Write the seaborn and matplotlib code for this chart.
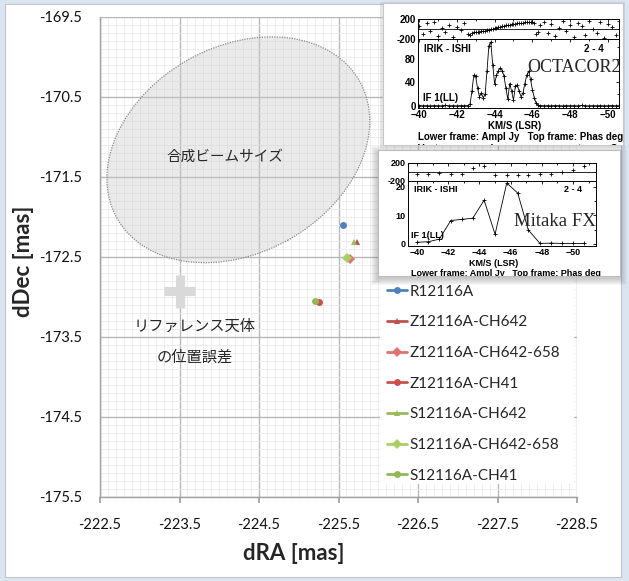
import numpy as np
import pandas as pd
import seaborn as sns
import matplotlib.pyplot as plt
from matplotlib.patches import Ellipse, Rectangle
from matplotlib.ticker import MultipleLocator, AutoMinorLocator

# ---- positions of the maser spot (mas)
series = ['R12116A', 'Z12116A-CH642', 'Z12116A-CH642-658', 'Z12116A-CH41',
          'S12116A-CH642', 'S12116A-CH642-658', 'S12116A-CH41']
dra = [-225.56, -225.73, -225.65, -225.25, -225.69, -225.61, -225.21]
ddec = [-172.10, -172.31, -172.52, -173.06, -172.31, -172.51, -173.05]

xticks = [-222.5, -223.5, -224.5, -225.5, -226.5, -227.5, -228.5]
yticks = [-175.5, -174.5, -173.5, -172.5, -171.5, -170.5, -169.5]

# synthesized beam and reference position error (mas)
beam_center = (-224.24, -171.16)
beam_size = (3.50, 2.58)
ref_pos = (-223.5, -172.93)
ref_err = (0.19, 0.21)

# ---- OCTACOR2 spectrum (km/s, Jy, deg)
vel_oc = [-40.0, -40.2, -40.4, -40.6, -40.8, -41.0, -41.2, -41.4, -41.6, -41.8, -42.0, -42.2, -42.4, -42.6,
          -42.7, -42.8, -42.9, -43.0, -43.1, -43.2, -43.3, -43.4, -43.5, -43.6, -43.7, -43.8, -43.9, -44.0,
          -44.1, -44.2, -44.3, -44.4, -44.5, -44.6, -44.7, -44.8, -44.9, -45.0, -45.1, -45.2, -45.3, -45.4,
          -45.5, -45.6, -45.7, -45.8, -45.9, -46.0, -46.1, -46.2, -46.3, -46.4,
          -46.6, -46.8, -47.0, -47.2, -47.4, -47.6, -47.8, -48.0, -48.2, -48.4, -48.6, -48.8, -49.0, -49.2,
          -49.4, -49.6, -49.8, -50.0, -50.2, -50.4, -50.6]
amp_oc = [1.2, 0.8, 1.0, 0.6, 1.1, 0.9, 0.7, 1.3, 0.8, 1.0, 0.6, 1.1, 0.9, 1.2,
          3, 25, 52, 50, 30, 16, 22, 14, 20, 60, 102, 108, 70, 38,
          52, 60, 64, 60, 50, 30, 12, 38, 25, 10, 34, 36, 25, 16,
          22, 38, 52, 59, 45, 28, 14, 5, 1.5, 1.2,
          0.8, 1.0, 0.7, 1.2, 0.9, 0.6, 1.1, 0.8, 1.0, 0.7, 1.3, 0.9, 0.6, 1.0,
          0.8, 1.1, 0.7, 0.9, 1.2, 0.8, 1.0]
phase_oc = [60, -90, 120, -40, 150, -130, 20, -60, 90, -150, 40, -20, 130, -100,
            -120, -70, -60, -55, -50, -60, -45, -40, -30, -20, -10, 0, 10, 20,
            30, 40, 50, 60, 70, 80, 85, 90, 100, 105, 110, 115, 120, 125,
            130, 135, 140, 145, 150, 140, 120, -100, -60, 80,
            150, -80, 110, -140, 30, 170, -30, 90, -160, 130, 60, -110, 160, 10,
            -70, 140, -170, 100, 40, -120, 170]

# ---- Mitaka FX spectrum
vel_fx = [-40.0, -40.73, -41.43, -42.16, -42.87, -43.57, -44.3, -45.0,
          -45.75, -46.45, -47.13, -47.88, -48.59, -49.28, -50.0, -50.7]
amp_fx = [0.6, 0.8, 1.7, 8.2, 8.6, 9.0, 15.3, 3.4, 21.3, 17.8, 4.9, 0.2, 0.3, 0.2, 0.2, 0.2]
phase_fx = [-36, -36, -20, -36, -36, 98, 128, -73, -60, -60, -60, -36, -50, -10, 40, 135]

palette = dict(zip(series, ['#4f81bd', '#c0504d', '#e27370', '#cb4f4b',
                            '#9bbb59', '#a9cf62', '#93b852']))
marker_map = dict(zip(series, ['o', '^', 'D', 'o', '^', 'D', 'o']))

sns.set_theme(style='white')
plt.rcParams['font.family'] = ['Lato', 'Noto Sans CJK JP', 'DejaVu Sans']
JP = ['Noto Sans CJK JP', 'DejaVu Sans']
HV = ['Liberation Sans', 'DejaVu Sans']

W, H = 629, 581


def box(l, t, r, b):
    return [l / W, 1 - b / H, (r - l) / W, (b - t) / H]


def fig_rect(l, t, r, b, **kw):
    rect = Rectangle((l / W, 1 - b / H), (r - l) / W, (b - t) / H,
                     transform=fig.transFigure, **kw)
    fig.add_artist(rect)
    return rect


fig = plt.figure(figsize=(6.29, 5.81), dpi=100)
fig.patch.set_facecolor('#dbe5f1')
fig_rect(5, 4, 621, 577, facecolor='white', edgecolor='#c4c4c4', lw=0.8, zorder=-5)

# ---------------- main chart
ax = fig.add_axes(box(100, 17, 577, 497), zorder=0)
ax.set_facecolor('none')
df = pd.DataFrame({'series': series, 'dRA': dra, 'dDec': ddec})
sns.lineplot(data=df, x='dRA', y='dDec', hue='series', style='series', hue_order=series,
             style_order=series, palette=palette, markers=marker_map, dashes=False,
             sort=False, estimator=None, markersize=5, markeredgewidth=0, lw=2, ax=ax)

ax.set_xlim(-222.5, -228.5)
ax.set_ylim(-175.5, -169.5)
ax.set_xticks(xticks, [f'{v:.1f}' for v in xticks])
ax.set_yticks(yticks, [f'{v:.1f}' for v in yticks])
ax.xaxis.set_minor_locator(MultipleLocator(0.1))
ax.yaxis.set_minor_locator(MultipleLocator(0.1))
ax.set_axisbelow(True)
ax.grid(which='major', color='#b8b8b8', lw=1.0)
ax.grid(which='minor', color='#eaeaea', lw=0.6)
ax.tick_params(axis='x', which='major', length=4, color='#a0a0a0', direction='out',
               bottom=True, labelsize=10.5, pad=11, labelcolor='#111111')
ax.tick_params(axis='y', which='major', length=0, labelsize=10.5, pad=13, labelcolor='#111111')
ax.tick_params(which='minor', length=0)
for s in ['top', 'right']:
    ax.spines[s].set_visible(False)
for s in ['left', 'bottom']:
    ax.spines[s].set_color('#a0a0a0')
    ax.spines[s].set_linewidth(1.0)

ax.set_xlabel('dRA [mas]', fontsize=16, fontweight='bold')
ax.xaxis.set_label_coords((294 - 100) / 477, -0.095)
ax.set_ylabel('dDec [mas]', fontsize=16, fontweight='bold')
ax.yaxis.set_label_coords(-0.138, 0.49)

# beam ellipse and reference error cross
ax.add_patch(Ellipse(beam_center, beam_size[0], beam_size[1], angle=-29,
                     facecolor=(0.80, 0.80, 0.80, 0.4), edgecolor='#8a8a8a',
                     linestyle=(0, (1, 1)), lw=0.9, zorder=1.5))
ax.errorbar([ref_pos[0]], [ref_pos[1]], xerr=ref_err[0], yerr=ref_err[1], fmt='none',
            ecolor='#d9d9d9', elinewidth=6.5, capsize=0, zorder=1.5)
ax.text(-224.07, -171.25, '合成ビームサイズ', family=JP, fontsize=10.5, ha='center', va='center')
ax.text(-223.69, -173.37, 'リファレンス天体', family=JP, fontsize=11, ha='center', va='center')
ax.text(-223.69, -173.75, 'の位置誤差', family=JP, fontsize=11, ha='center', va='center')

# legend on a white patch
ax.add_patch(Rectangle((0.587, 0.027), 0.407, 0.429, transform=ax.transAxes,
                       facecolor='white', edgecolor='none', zorder=1))
handles, labels = ax.get_legend_handles_labels()
ax.legend(handles, labels, loc='upper left', bbox_to_anchor=(0.602, 0.442), frameon=False,
          fontsize=11, labelspacing=1.09, handlelength=1.3, handletextpad=0.15,
          borderpad=0, borderaxespad=0)


# ---------------- spectrum insets
def spectrum(l, r, t, mid, b, vel, amp, phase, xlim, ylim, ytk, xtk_size, z):
    ph = fig.add_axes(box(l, t, r, mid), zorder=z)
    am = fig.add_axes(box(l, mid, r, b), zorder=z)
    sns.scatterplot(x=vel, y=phase, marker='+', s=9, color='black', linewidth=0.6, ax=ph)
    sns.lineplot(x=vel, y=amp, color='black', lw=0.6, marker='+', markersize=3.5,
                 markeredgewidth=0.6, markeredgecolor='black', sort=False, estimator=None, ax=am)
    ph.axhline(0, color='black', lw=0.6)
    for a in (ph, am):
        a.set_xlim(*xlim)
        a.set_facecolor('white')
        a.xaxis.set_minor_locator(AutoMinorLocator(2))
        a.yaxis.set_minor_locator(AutoMinorLocator(2))
        a.tick_params(which='both', direction='in', top=True, right=True, width=0.6,
                      labelsize=xtk_size, pad=1.5, colors='black')
        a.tick_params(which='major', length=2.5)
        a.tick_params(which='minor', length=1.5)
        a.set_xlabel('')
        a.set_ylabel('')
        for s in a.spines.values():
            s.set_color('black')
            s.set_linewidth(0.7)
    ph.set_ylim(-200, 200)
    ph.set_yticks([-200, 200], ['-200', '200'])
    ph.set_xticks([-40, -42, -44, -46, -48, -50])
    ph.tick_params(labelbottom=False)
    am.set_ylim(*ylim)
    am.set_yticks(ytk)
    am.set_xticks([-40, -42, -44, -46, -48, -50])
    for a in (ph, am):
        plt.setp(a.get_xticklabels() + a.get_yticklabels(), fontweight='bold', family=HV)
    return ph, am


# OCTACOR2 card
fig_rect(380, 2, 625, 148, facecolor='#9a9a9a', edgecolor='none', alpha=0.25, zorder=1)
card1 = fig_rect(383, 3, 623, 145, facecolor='white', edgecolor='#c8c8c8', lw=0.8, zorder=1.2)
spectrum(418, 619, 19, 39, 108, vel_oc, amp_oc, phase_oc, (-39.95, -50.58), (-3, 113),
         [0, 40, 80], 7, 2)
tkw = dict(family=HV, fontweight='bold', zorder=3, color='black')
fig.text(424 / W, 1 - 49 / H, 'IRIK - ISHI', fontsize=7, va='center', **tkw)
fig.text(604 / W, 1 - 49 / H, '2 - 4', fontsize=7, va='center', ha='right', **tkw)
fig.text(423 / W, 1 - 98 / H, 'IF 1(LL)', fontsize=7, va='center', **tkw)
fig.text(621 / W, 1 - 68 / H, 'OCTACOR2', fontsize=13, va='center', ha='right',
         family=['Liberation Serif', 'DejaVu Serif'], zorder=3)
fig.text(515 / W, 1 - 126 / H, 'KM/S (LSR)', fontsize=7, va='center', ha='center', **tkw)
fig.text(418 / W, 1 - 137 / H, 'Lower frame: Ampl Jy   Top frame: Phas deg', fontsize=7,
         va='center', **tkw)
t = fig.text(418 / W, 1 - 149 / H, 'Vector averaged cross power spectrum    Source',
             fontsize=7, va='center', **tkw)
t.set_clip_path(card1)

# Mitaka FX card with drop shadow
for i in range(7):
    g = 7 - i
    fig_rect(378 - g, 150 - g + 3, 620 + g, 276 + g + 2, facecolor='#606060', edgecolor='none',
             alpha=0.05, zorder=4)
card2 = fig_rect(378, 150, 620, 276, facecolor='white', edgecolor='#bdbdbd', lw=0.8, zorder=4.5)
spectrum(408, 596, 163, 181, 246, vel_fx, amp_fx, phase_fx, (-39.42, -51.47), (-0.7, 22),
         [0, 10, 20], 6.5, 5)
tkw['zorder'] = 6
fig.text(414 / W, 1 - 190 / H, 'IRIK - ISHI', fontsize=6.5, va='center', **tkw)
fig.text(582 / W, 1 - 190 / H, '2 - 4', fontsize=6.5, va='center', ha='right', **tkw)
fig.text(411 / W, 1 - 235 / H, 'IF 1(LL)', fontsize=6.5, va='center', **tkw)
fig.text(596 / W, 1 - 222 / H, 'Mitaka FX', fontsize=13.5, va='center', ha='right',
         family=['Liberation Serif', 'DejaVu Serif'], zorder=6)
fig.text(494 / W, 1 - 264 / H, 'KM/S (LSR)', fontsize=6.5, va='center', ha='center', **tkw)
t = fig.text(411 / W, 1 - 274 / H, 'Lower frame: Ampl Jy   Top frame: Phas deg', fontsize=6.5,
             va='center', **tkw)
t.set_clip_path(card2)

fig.savefig('out.png', dpi=100, facecolor=fig.get_facecolor())
